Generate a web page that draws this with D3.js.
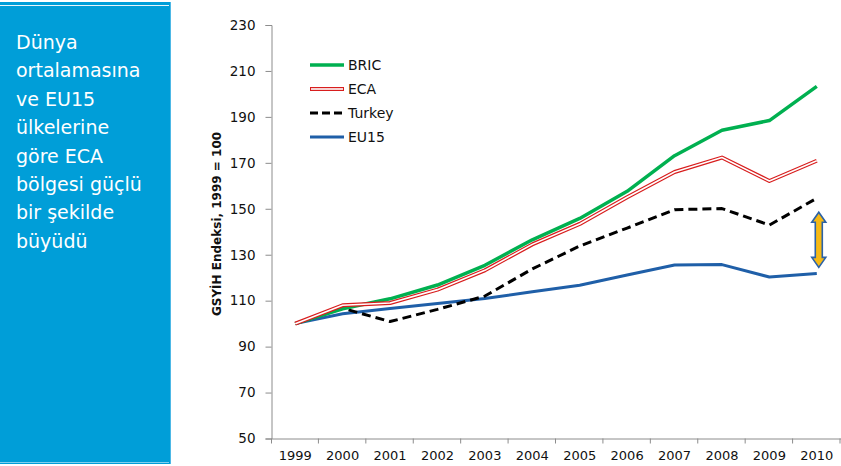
<!DOCTYPE html>
<html>
<head>
<meta charset="utf-8">
<script src="https://cdn.jsdelivr.net/npm/d3@7"></script>
<style>
  html, body { margin: 0; padding: 0; background: #fff; }
  svg { display: block; }
</style>
</head>
<body>
<svg id="chart" width="841" height="466"></svg>
<script>
// GDP index by region, 1999 = 100
const years = ["1999","2000","2001","2002","2003","2004","2005","2006","2007","2008","2009","2010"];
const bric   = [100, 106.5, 110.8, 116.8, 125.4, 136.5, 145.8, 157.6, 173.1, 184.2, 188.4, 203.3];
const eca    = [100, 108.0, 109.0, 114.8, 123.2, 134.5, 143.4, 155.0, 166.0, 172.3, 162.1, 170.9];
const turkey = [100, 106.7, 100.9, 106.2, 112.0, 123.8, 133.8, 141.6, 149.6, 150.1, 142.9, 154.6];
const eu15   = [100, 104.3, 106.6, 108.8, 110.9, 113.9, 116.7, 121.2, 125.5, 125.7, 120.3, 121.8];
const seriesNames = ["BRIC", "ECA", "Turkey", "EU15"];
const yTicks = [50, 70, 90, 110, 130, 150, 170, 190, 210, 230];
const yTitle = "GSYİH Endeksi, 1999 = 100";
const boxLines = ["Dünya", "ortalamasına", "ve EU15", "ülkelerine", "göre ECA", "bölgesi güçlü", "bir şekilde", "büyüdü"];
// gap highlighted in 2010 between Turkey and EU15
const gapRange = [148.5, 124.5];

const svg = d3.select("#chart");
const font = "'DejaVu Sans', sans-serif";

// Side note panel
svg.append("rect").attr("x", 0).attr("y", 2).attr("width", 171).attr("height", 462).attr("fill", "#009ed8");
svg.append("line").attr("x1", 0).attr("x2", 169).attr("y1", 5.5).attr("y2", 5.5).attr("stroke", "#e6f5fb").attr("stroke-width", 1);
svg.append("line").attr("x1", 0).attr("x2", 169).attr("y1", 462.5).attr("y2", 462.5).attr("stroke", "#7fd0ee").attr("stroke-width", 1);
svg.append("line").attr("x1", 170.5).attr("x2", 170.5).attr("y1", 2).attr("y2", 464).attr("stroke", "#4db8e6").attr("stroke-width", 1);
svg.append("g").selectAll("text").data(boxLines).join("text")
  .attr("x", 16).attr("y", (d, i) => 49 + i * 28.4)
  .attr("fill", "#fff").attr("font-family", font).attr("font-size", 19)
  .text(d => d);

// Scales
const x = d3.scaleBand().domain(years).range([271.5, 840.5]).paddingInner(0).paddingOuter(0);
const y = d3.scaleLinear().domain([50, 230]).range([438.5, 25]);
const cx = d => x(d) + x.bandwidth() / 2;

// Axes
const yAxis = svg.append("g").attr("transform", "translate(271.5,0)")
  .call(d3.axisLeft(y).tickValues(yTicks).tickSize(6).tickPadding(10).tickFormat(d3.format("d")));
const xAxis = svg.append("g").attr("transform", "translate(0,438.5)")
  .call(d3.axisBottom(x).tickSize(0).tickPadding(12));
// tick marks at category boundaries
xAxis.selectAll(".boundary").data(years.slice(1).concat(["end"])).join("line")
  .attr("class", "boundary")
  .attr("x1", (d, i) => x.range()[0] + (i + 1) * x.bandwidth() - 0.5)
  .attr("x2", (d, i) => x.range()[0] + (i + 1) * x.bandwidth() - 0.5)
  .attr("y1", 0).attr("y2", 5)
  .attr("stroke", "#8c8c8c");
xAxis.append("line").attr("x1", 271.5).attr("x2", 271.5).attr("y1", 0).attr("y2", 5).attr("stroke", "#8c8c8c");

[yAxis, xAxis].forEach(g => {
  g.select(".domain").attr("stroke", "#8c8c8c");
  g.selectAll(".tick line").attr("stroke", "#8c8c8c");
  g.selectAll(".tick text").attr("fill", "#111").attr("font-family", font).attr("font-size", 13.5);
});
xAxis.selectAll(".tick text").attr("font-size", 13);

svg.append("text")
  .attr("transform", "translate(221,224) rotate(-90)")
  .attr("text-anchor", "middle")
  .attr("font-family", font).attr("font-size", 12).attr("font-weight", "bold")
  .attr("fill", "#111")
  .text(yTitle);

// Lines
const line = d3.line().x((d, i) => cx(years[i])).y(d => y(d));
const plot = svg.append("g").attr("fill", "none").attr("stroke-linejoin", "round");

plot.append("path").datum(eu15).attr("d", line).attr("stroke", "#1f5fa8").attr("stroke-width", 3);
plot.append("path").datum(turkey).attr("d", line).attr("stroke", "#000").attr("stroke-width", 3).attr("stroke-dasharray", "9,5");
plot.append("path").datum(bric).attr("d", line).attr("stroke", "#00b050").attr("stroke-width", 3.5);
plot.append("path").datum(eca).attr("d", line).attr("stroke", "#d81e1e").attr("stroke-width", 4);
plot.append("path").datum(eca).attr("d", line).attr("stroke", "#fff").attr("stroke-width", 1.6);

// Legend
const legend = svg.append("g");
const legY = [65, 89, 113, 137];
const legStyles = [
  {stroke: "#00b050", w: 3.5},
  {stroke: "#d81e1e", w: 4, inner: true},
  {stroke: "#000", w: 3, dash: "8,4"},
  {stroke: "#1f5fa8", w: 3}
];
seriesNames.forEach((name, i) => {
  const s = legStyles[i];
  legend.append("line").attr("x1", 310).attr("x2", 344).attr("y1", legY[i]).attr("y2", legY[i])
    .attr("stroke", s.stroke).attr("stroke-width", s.w).attr("stroke-dasharray", s.dash || null);
  if (s.inner) legend.append("line").attr("x1", 311).attr("x2", 343).attr("y1", legY[i]).attr("y2", legY[i])
    .attr("stroke", "#fff").attr("stroke-width", 1.6);
  legend.append("text").attr("x", 348).attr("y", legY[i] + 5)
    .attr("font-family", font).attr("font-size", 14).attr("fill", "#111").text(name);
});

// Double-headed arrow marking the 2010 gap
const ax = cx("2010") + 2;
const yt = y(gapRange[0]), yb = y(gapRange[1]);
const hw = 7, sw = 3.5, hh = 10;
const arrow = d3.path();
arrow.moveTo(ax, yt);
arrow.lineTo(ax + hw, yt + hh);
arrow.lineTo(ax + sw, yt + hh);
arrow.lineTo(ax + sw, yb - hh);
arrow.lineTo(ax + hw, yb - hh);
arrow.lineTo(ax, yb);
arrow.lineTo(ax - hw, yb - hh);
arrow.lineTo(ax - sw, yb - hh);
arrow.lineTo(ax - sw, yt + hh);
arrow.lineTo(ax - hw, yt + hh);
arrow.closePath();
svg.append("path").attr("d", arrow.toString())
  .attr("fill", "#f6b914").attr("stroke", "#2b62a8").attr("stroke-width", 1.6).attr("stroke-linejoin", "miter");
</script>
</body>
</html>
